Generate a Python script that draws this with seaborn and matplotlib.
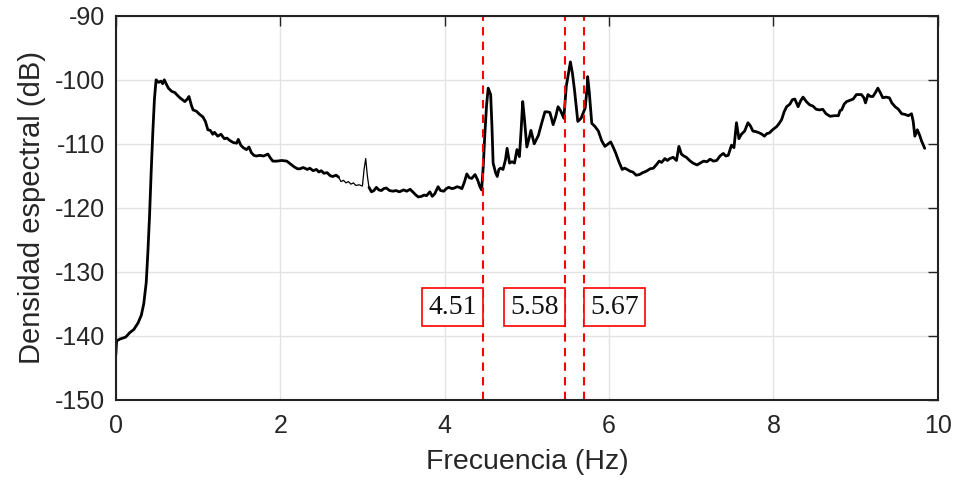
import pandas as pd
import seaborn as sns
import matplotlib.pyplot as plt

# Spectrum (Hz, dB)
freq = [0.00, 0.01, 0.05, 0.12, 0.17, 0.22, 0.27, 0.31, 0.34, 0.37, 0.39, 0.41, 0.43, 0.45, 0.47, 0.49,
        0.52, 0.55, 0.57, 0.59, 0.62, 0.64, 0.68, 0.72, 0.74, 0.78, 0.82, 0.84, 0.87, 0.89, 0.92, 0.94,
        0.98, 1.02, 1.06, 1.09, 1.12, 1.15, 1.18, 1.20, 1.24, 1.28, 1.32, 1.35, 1.39, 1.43, 1.47, 1.49,
        1.52, 1.55, 1.59, 1.62, 1.65, 1.68, 1.71, 1.75, 1.80, 1.85, 1.88, 1.91, 1.96, 2.02, 2.08, 2.12,
        2.17, 2.21, 2.24, 2.28, 2.33, 2.36, 2.40, 2.44, 2.47, 2.50, 2.53, 2.57, 2.61, 2.64, 2.68, 2.71,
        2.74, 2.77, 2.80, 2.83, 2.86, 2.89, 2.92, 2.96, 3.00, 3.02, 3.04, 3.06, 3.08,
        3.11, 3.14, 3.17, 3.20, 3.23, 3.26, 3.29, 3.33, 3.37, 3.41, 3.45, 3.50, 3.54, 3.58, 3.62, 3.65,
        3.68, 3.72, 3.75, 3.78, 3.82, 3.85, 3.88, 3.92, 3.95, 3.99, 4.02, 4.05, 4.09, 4.12, 4.15, 4.18,
        4.21, 4.24, 4.27, 4.30, 4.33, 4.37, 4.40, 4.43, 4.45, 4.47, 4.49, 4.51, 4.53, 4.56, 4.575, 4.59,
        4.62, 4.64, 4.66, 4.68, 4.71, 4.74, 4.76, 4.79, 4.82, 4.85, 4.88, 4.91, 4.93, 4.95, 4.97, 5.00,
        5.03, 5.05, 5.09, 5.14, 5.18, 5.22, 5.25, 5.28, 5.30, 5.32, 5.35, 5.38, 5.41, 5.45, 5.48, 5.50,
        5.53, 5.555, 5.58, 5.60, 5.62, 5.66, 5.71, 5.735, 5.74, 5.76, 5.79, 5.83, 5.87, 5.91, 5.95, 6.00,
        6.02, 6.05, 6.08, 6.12, 6.16, 6.19, 6.22, 6.26, 6.29, 6.33, 6.37, 6.41, 6.45, 6.50, 6.54, 6.58,
        6.61, 6.64, 6.68, 6.71, 6.74, 6.78, 6.82, 6.85, 6.88, 6.91, 6.94, 6.98, 7.02, 7.07, 7.11, 7.15,
        7.19, 7.23, 7.27, 7.31, 7.35, 7.39, 7.42, 7.45, 7.49, 7.52, 7.55, 7.58, 7.61, 7.65, 7.69, 7.72,
        7.75, 7.79, 7.83, 7.86, 7.89, 7.92, 7.95, 7.99, 8.04, 8.07, 8.10, 8.13, 8.16, 8.20, 8.23, 8.26,
        8.28, 8.30, 8.33, 8.36, 8.40, 8.44, 8.48, 8.52, 8.56, 8.60, 8.64, 8.69, 8.74, 8.79, 8.81, 8.83,
        8.86, 8.89, 8.93, 8.97, 9.01, 9.04, 9.07, 9.10, 9.12, 9.15, 9.18, 9.21, 9.24, 9.27, 9.30, 9.33,
        9.37, 9.41, 9.44, 9.48, 9.52, 9.56, 9.60, 9.64, 9.68, 9.70, 9.72, 9.75, 9.78, 9.80, 9.84]
psd = [-143.0, -140.8, -140.5, -140.2, -139.5, -139.0, -138.0, -136.8, -135.0, -131.7, -127.0, -121.4, -114.5, -108.3, -103.0, -100.0,
       -100.4, -100.2, -100.6, -100.0, -100.8, -101.3, -101.8, -102.0, -102.3, -102.8, -103.2, -103.4, -103.0, -102.6, -104.0, -104.7,
       -104.9, -105.4, -105.8, -106.5, -107.8, -107.9, -108.5, -108.2, -108.8, -108.5, -109.2, -109.1, -109.5, -109.8, -109.9, -109.3,
       -110.2, -110.6, -110.9, -110.5, -111.4, -111.8, -111.9, -111.8, -111.9, -111.6, -112.2, -112.7, -112.7, -112.6, -112.7, -113.1,
       -113.6, -113.9, -113.9, -113.7, -114.0, -113.8, -114.2, -114.0, -114.4, -114.2, -114.6, -114.5, -115.0, -115.1, -114.9, -115.2,
       -115.9, -115.7, -116.1, -115.9, -116.3, -116.1, -116.5, -116.4, -116.6, -114.0, -112.3, -115.0, -116.8,
       -117.5, -117.3, -116.8, -117.2, -117.3, -117.0, -116.9, -117.3, -117.4, -117.3, -117.5, -117.2, -117.4, -117.1, -117.6, -118.0,
       -118.3, -118.2, -118.0, -118.1, -117.5, -118.2, -117.8, -116.7, -117.3, -117.4, -117.0, -116.8, -117.0, -116.9, -116.7, -116.8,
       -117.0, -116.0, -114.7, -115.3, -115.4, -114.8, -115.6, -116.7, -117.2, -113.5, -108.3, -104.0, -101.3, -102.3, -107.0, -113.0,
       -114.5, -115.1, -114.0, -113.8, -114.0, -112.5, -110.7, -113.0, -112.8, -113.0, -110.9, -112.0, -108.0, -103.4, -106.0, -110.5,
       -109.0, -107.9, -110.0, -108.7, -106.8, -105.0, -105.0, -105.1, -106.0, -107.0, -105.8, -104.2, -104.8, -106.0, -101.0, -99.5,
       -97.2, -99.0, -101.6, -104.0, -106.5, -106.0, -104.4, -101.0, -99.5, -102.0, -106.8, -107.3, -108.0, -109.5, -110.4, -109.9,
       -109.7, -110.5, -111.4, -112.8, -114.0, -113.8, -114.0, -114.3, -114.4, -114.9, -114.8, -114.5, -114.3, -113.9, -113.8, -113.2,
       -112.7, -112.9, -112.3, -112.6, -112.3, -112.1, -112.6, -110.4, -111.6, -111.9, -112.1, -112.6, -113.0, -113.3, -113.0, -112.7,
       -112.8, -112.4, -112.7, -112.6, -111.9, -111.5, -111.9, -111.8, -110.2, -110.6, -106.7, -109.2, -108.5, -108.0, -106.7, -107.2,
       -108.0, -108.1, -108.3, -108.5, -108.8, -108.4, -108.3, -107.8, -107.3, -106.8, -106.2, -105.0, -104.2, -103.8, -103.1, -103.0,
       -103.6, -104.2, -103.3, -102.7, -103.4, -103.9, -104.1, -104.6, -104.7, -104.6, -105.3, -105.7, -105.6, -105.6, -104.8, -104.7,
       -103.8, -103.4, -103.2, -103.0, -102.3, -102.3, -102.3, -102.8, -103.6, -102.3, -102.6, -102.6, -102.0, -101.3, -102.0, -102.8,
       -102.7, -102.8, -103.6, -104.2, -104.6, -105.3, -105.4, -105.6, -105.3, -106.5, -108.8, -107.8, -108.7, -109.5, -110.7]

# Marked frequencies: where the dashed lines sit and what the boxes say
line_freqs = [4.47, 5.46, 5.69]
line_labels = ['4.51', '5.58', '5.67']
label_x = [4.10, 5.09, 6.07]
label_y = -135.5

df = pd.DataFrame({'f': freq, 'db': psd})

sns.set_style('whitegrid')
plt.rcParams['font.family'] = ['Liberation Sans', 'DejaVu Sans']
plt.rcParams['axes.unicode_minus'] = False

fig, ax = plt.subplots(figsize=(9.57, 4.8), dpi=100)
fig.subplots_adjust(left=0.121, right=0.980, top=0.967, bottom=0.167)

# the trace looks thinner for a short stretch near 3 Hz
thick1 = df[df['f'] <= 2.71]
thin = df[(df['f'] >= 2.71) & (df['f'] <= 3.08)]
thick2 = df[df['f'] >= 3.08]
sns.lineplot(data=thick1, x='f', y='db', color='black', lw=2, sort=False, estimator=None, ax=ax)
sns.lineplot(data=thin, x='f', y='db', color='black', lw=0.9, sort=False, estimator=None, ax=ax)
sns.lineplot(data=thick2, x='f', y='db', color='black', lw=2, sort=False, estimator=None, ax=ax)

for xv in line_freqs:
    ax.axvline(xv, color='red', ls=(0, (4, 3)), lw=1.5)

for xv, lab in zip(label_x, line_labels):
    ax.text(xv, label_y, lab, ha='center', va='center', fontsize=20, color='#111111',
            family=['Liberation Serif', 'DejaVu Serif'],
            bbox=dict(boxstyle='square,pad=0.22', fc='white', ec='red', lw=1.2))

ax.set_xlim(0, 10)
ax.set_ylim(-150, -90)
ax.set_xticks([0, 2, 4, 6, 8, 10])
ax.set_yticks([-150, -140, -130, -120, -110, -100, -90])
ax.grid(True, color='#e3e3e3', lw=1)
for s in ax.spines.values():
    s.set_color('#222222')
    s.set_linewidth(1.5)
ax.tick_params(direction='in', length=7, width=1, top=True, right=True,
               labelsize=18, colors='#222222', labelcolor='#262626')
ax.tick_params(axis='x', pad=10)
ax.tick_params(axis='y', pad=8)
ax.set_xlabel('Frecuencia (Hz)', fontsize=20.5, color='#262626', labelpad=8)
ax.set_ylabel('Densidad espectral (dB)', fontsize=21, color='#262626', labelpad=6)

plt.savefig('out.png', dpi=100)
